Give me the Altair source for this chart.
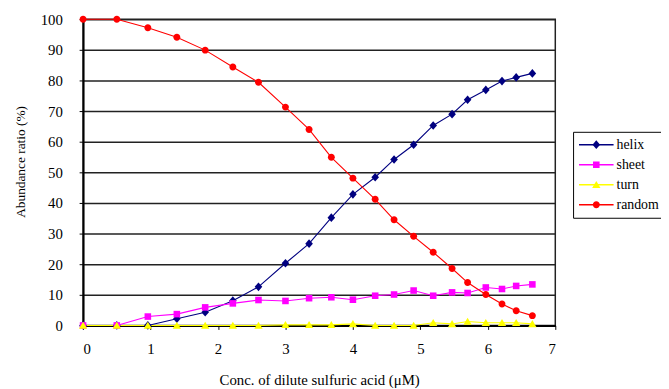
import altair as alt
import pandas as pd

# Concentration of dilute sulfuric acid (uM)
conc = [0, 0.5, 0.96, 1.39, 1.81, 2.22, 2.6, 3.0, 3.35, 3.68, 4.0,
        4.33, 4.61, 4.9, 5.19, 5.47, 5.7, 5.97, 6.21, 6.42, 6.66]

helix = [0, 0, 0, 2.2, 4.3, 8.1, 12.6, 20.3, 26.7, 35.2, 42.8,
         48.4, 54.2, 59.0, 65.3, 69.0, 73.7, 76.9, 79.8, 81.0, 82.3]
sheet = [0, 0, 2.9, 3.7, 5.9, 7.2, 8.3, 8.0, 8.9, 9.2, 8.4,
         9.7, 10.1, 11.4, 9.7, 10.8, 10.6, 12.4, 11.9, 12.9, 13.4]
turn = [0, 0, 0, 0, 0, 0, 0, 0.2, 0.2, 0.2, 0.5,
        0, 0, 0, 0.9, 0.5, 1.3, 0.9, 0.9, 0.9, 0.5]
random_coil = [100, 100, 97.2, 94.1, 89.9, 84.4, 79.4, 71.3, 64.0, 54.9, 48.1,
               41.2, 34.5, 29.1, 23.9, 18.6, 14.0, 10.1, 7.0, 4.8, 3.2]

series_names = ["helix", "sheet", "turn", "random"]
series_colors = ["#000080", "#FF00FF", "#FFFF00", "#FF0000"]
series_shapes = [
    "M0,-0.25L0.22,0L0,0.25L-0.22,0Z",
    "M-0.19,-0.19L0.19,-0.19L0.19,0.19L-0.19,0.19Z",
    "M0,-0.22L0.24,0.19L-0.24,0.19Z",
    "M-0.2,0A0.2,0.2,0,1,1,0.2,0A0.2,0.2,0,1,1,-0.2,0Z",
]

rows = []
for name, vals in zip(series_names, [helix, sheet, turn, random_coil]):
    for xv, yv in zip(conc, vals):
        rows.append({"conc": xv, "ratio": yv, "series": name, "line_series": name})
df = pd.DataFrame(rows)

FONT = "Liberation Serif"

x_enc = alt.X(
    "conc:Q",
    scale=alt.Scale(domain=[0, 7], nice=False),
    axis=alt.Axis(values=list(range(0, 8)), title="Conc. of dilute sulfuric acid (μM)",
                  grid=False, tickSize=4, labelPadding=12, titleY=60,
                  titleBaseline="alphabetic", labelFontSize=15, titleFontSize=15),
)
y_enc = alt.Y(
    "ratio:Q",
    scale=alt.Scale(domain=[0, 100], nice=False),
    axis=alt.Axis(values=list(range(0, 101, 10)), title="Abundance ratio (%)",
                  grid=True, tickSize=4, labelPadding=17, titleX=-59, titleY=144,
                  titleBaseline="alphabetic", labelFontSize=15, titleFontSize=13.5),
)

legend_common = dict(
    orient="none", legendX=496, legendY=114, title=None, direction="vertical",
    padding=5, rowPadding=4.3, clipHeight=16, symbolSize=1225, labelOffset=2,
    labelFont=FONT, labelFontSize=14, labelColor="black",
)

base = alt.Chart(df)

lines = base.mark_line(strokeWidth=1.1).encode(
    x=x_enc,
    y=y_enc,
    stroke=alt.Stroke(
        "line_series:N",
        sort=series_names,
        scale=alt.Scale(range=series_colors),
        legend=alt.Legend(symbolType="M-1,0L1,0", symbolStrokeWidth=1.5,
                          strokeColor="black", zindex=0, **legend_common),
    ),
)

points = base.mark_point(filled=True, size=1225, opacity=1).encode(
    x=x_enc,
    y=y_enc,
    color=alt.Color(
        "series:N",
        scale=alt.Scale(domain=series_names, range=series_colors),
        legend=alt.Legend(labelOpacity=0, zindex=1, **legend_common),
    ),
    shape=alt.Shape(
        "series:N",
        scale=alt.Scale(domain=series_names, range=series_shapes),
        legend=alt.Legend(labelOpacity=0, zindex=1, **legend_common),
    ),
)

chart = (
    alt.layer(lines, points)
    .properties(
        width=478,
        height=310,
        autosize=alt.AutoSizeParams(type="none"),
        padding={"left": 76, "top": 9, "right": 107, "bottom": 62},
        background="white",
    )
    .configure_view(stroke="#222222", strokeWidth=1.5)
    .configure_axis(
        labelFont=FONT, titleFont=FONT,
        titleFontWeight="normal", labelColor="black", titleColor="black",
        domainColor="black", domainWidth=2, tickColor="black",
        gridColor="#222222", gridWidth=1.5,
    )
)

chart.save("out.html", embed_options={"renderer": "svg", "actions": False})
